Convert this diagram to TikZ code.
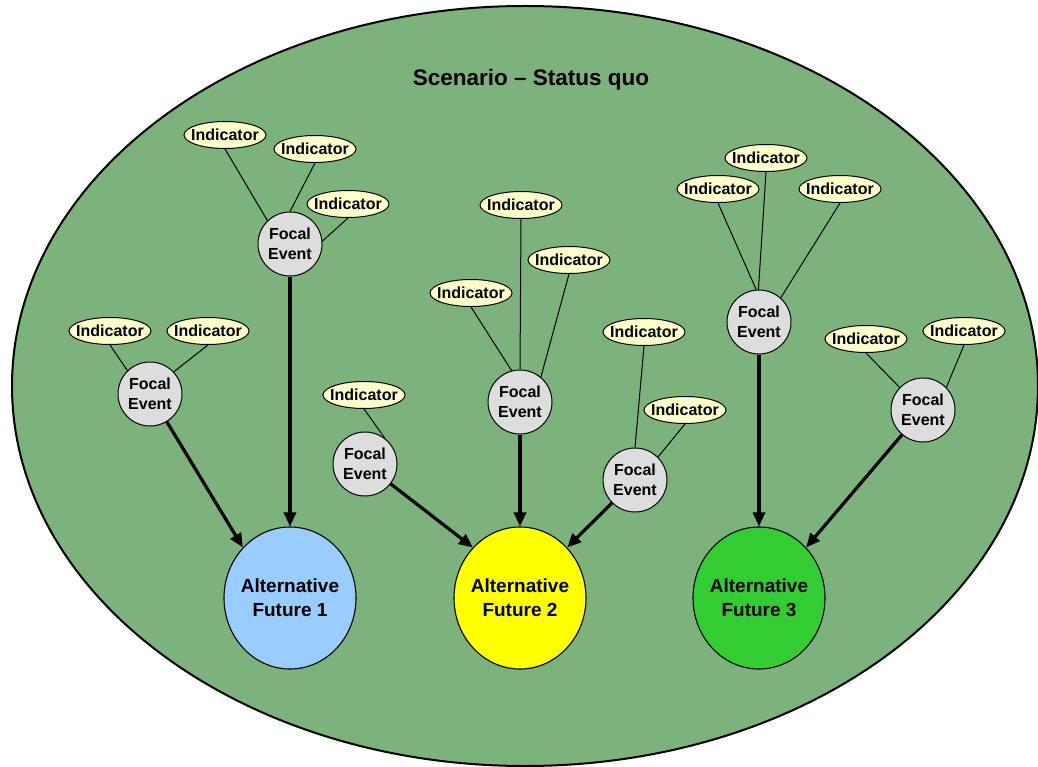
\documentclass[tikz,border=0pt]{standalone}
\usepackage{fontspec}
\setmainfont{Liberation Sans}
\usetikzlibrary{arrows.meta,shapes.geometric}
\definecolor{bggreen}{RGB}{124,178,124}
\definecolor{indyellow}{RGB}{255,255,204}
\definecolor{fegray}{RGB}{221,221,221}
\definecolor{afblue}{RGB}{153,204,255}
\definecolor{afyellow}{RGB}{255,255,0}
\definecolor{afgreen}{RGB}{51,204,51}
\newcommand{\indlbl}{\makebox[30pt]{Indicator}}
\begin{document}
\begin{tikzpicture}[x=1pt,y=-1pt,
  ind/.style={ellipse,draw=black,line width=1pt,fill=indyellow,minimum width=82pt,minimum height=27pt,inner sep=0pt,font=\fontsize{16}{19}\selectfont\bfseries},
  focal/.style={circle,draw=black,line width=1pt,fill=fegray,minimum size=64pt,inner sep=0pt,align=center,font=\fontsize{16}{20}\selectfont\bfseries},
  future/.style={ellipse,draw=black,line width=1.1pt,minimum width=132pt,minimum height=142pt,inner xsep=-3pt,inner ysep=0pt,align=center,font=\fontsize{19}{24}\selectfont\bfseries},
  link/.style={line width=1pt},
  flow/.style={line width=3.2pt,-{Triangle[length=14pt,width=12pt]}}
]
\useasboundingbox (0,0) rectangle (1038,767);
\draw[line width=2pt,fill=bggreen] (525,386) ellipse [x radius=513, y radius=380];
\node[font=\fontsize{22.5}{27}\selectfont\bfseries] (title) at (531,80) {Scenario – Status quo};

% futures
\node[future,fill=afblue] (af1) at (290,598) {Alternative\\Future 1};
\node[future,fill=afyellow] (af2) at (520,598) {Alternative\\Future 2};
\node[future,fill=afgreen] (af3) at (759,598) {Alternative\\Future 3};

% focal events
\node[focal] (fa) at (290,244) {Focal\\Event};
\node[focal] (fb) at (150,394) {Focal\\Event};
\node[focal] (fc) at (365,464) {Focal\\Event};
\node[focal] (fd) at (520,402) {Focal\\Event};
\node[focal] (fe) at (635,480) {Focal\\Event};
\node[focal] (ff) at (759,322) {Focal\\Event};
\node[focal] (fg) at (923,410) {Focal\\Event};

% indicators
\node[ind] (a1) at (225,135) {\indlbl};
\node[ind] (a2) at (315,149) {\indlbl};
\node[ind] (a3) at (348,204) {\indlbl};
\node[ind] (b1) at (110,331) {\indlbl};
\node[ind] (b2) at (208,331) {\indlbl};
\node[ind] (c1) at (364,395) {\indlbl};
\node[ind] (d1) at (521,205) {\indlbl};
\node[ind] (d2) at (569,260) {\indlbl};
\node[ind] (d3) at (471,293) {\indlbl};
\node[ind] (e1) at (644,332) {\indlbl};
\node[ind] (e2) at (685,410) {\indlbl};
\node[ind] (f1) at (766,158) {\indlbl};
\node[ind] (f2) at (718,189) {\indlbl};
\node[ind] (f3) at (840,189) {\indlbl};
\node[ind] (g1) at (866,339) {\indlbl};
\node[ind] (g2) at (964,331) {\indlbl};

% indicator links
\draw[link] (a1.south) -- (fa.134);
\draw[link] (a2.south) -- (fa.90);
\draw[link] (a3.south) -- (fa.5);
\draw[link] (b1.south) -- (fb.134);
\draw[link] (b2.south) -- (fb.43);
\draw[link] (c1.south) -- (fc.52);
\draw[link] (d1.south) -- (fd.90);
\draw[link] (d2.south) -- (fd.50);
\draw[link] (d3.south) -- (fd.105);
\draw[link] (e1.south) -- (fe.90);
\draw[link] (e2.south) -- (fe.45);
\draw[link] (f1.south) -- (ff.91);
\draw[link] (f2.south) -- (ff.95);
\draw[link] (f3.south) -- (ff.48);
\draw[link] (g1.south) -- (fg.136);
\draw[link] (g2.south) -- (fg.44);

% flows
\draw[flow] (fa) -- (af1.north);
\draw[flow] (fb) -- (af1.133);
\draw[flow] (fc) -- (af2.133);
\draw[flow] (fd) -- (af2.north);
\draw[flow] (fe) -- (af2.47);
\draw[flow] (ff) -- (af3.north);
\draw[flow] (fg) -- (af3.47);
\end{tikzpicture}
\end{document}
